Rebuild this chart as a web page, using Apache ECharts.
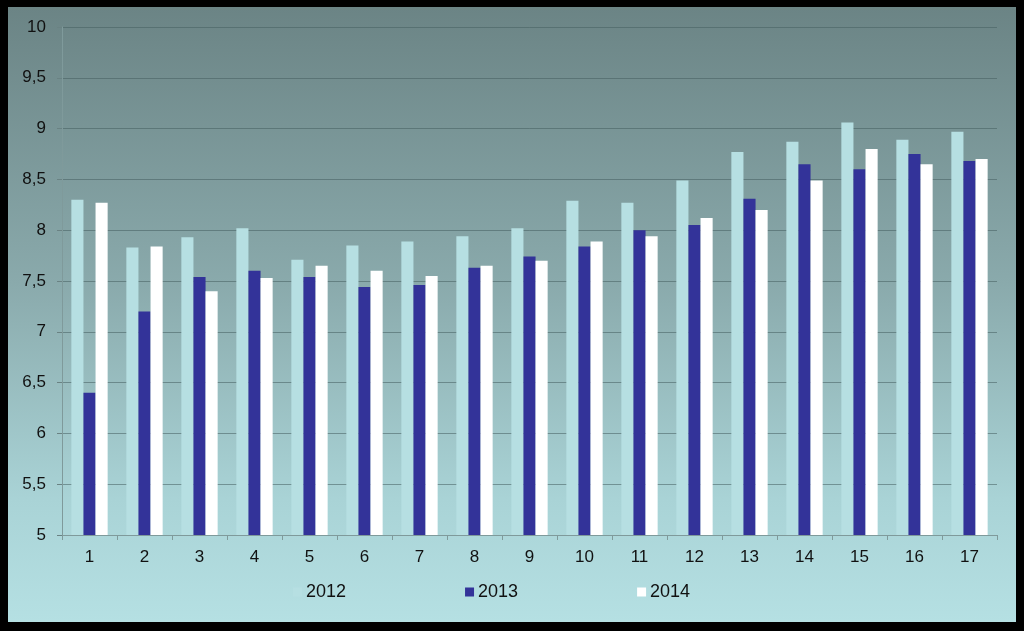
<!DOCTYPE html>
<html>
<head>
<meta charset="utf-8">
<style>
html,body{margin:0;padding:0;background:#000;}
#chart{width:1024px;height:631px;}
</style>
<script src="https://cdn.jsdelivr.net/npm/echarts@6/dist/echarts.min.js"></script>
</head>
<body>
<div id="chart"></div>
<script>
const categories = ['1','2','3','4','5','6','7','8','9','10','11','12','13','14','15','16','17'];
const s2012 = [8.30,7.83,7.93,8.02,7.71,7.85,7.89,7.94,8.02,8.29,8.27,8.49,8.77,8.87,9.06,8.89,8.97];
const s2013 = [6.40,7.20,7.54,7.60,7.54,7.44,7.46,7.63,7.74,7.84,8.00,8.05,8.31,8.65,8.60,8.75,8.68];
const s2014 = [8.27,7.84,7.40,7.53,7.65,7.60,7.55,7.65,7.70,7.89,7.94,8.12,8.20,8.49,8.80,8.65,8.70];
const seriesNames = ['2012','2013','2014'];

const chart = echarts.init(document.getElementById('chart'), null, {renderer:'canvas'});
const font = '"Liberation Sans", Arial, sans-serif';
const mk = (name, data, color) => ({
  name, type:'bar', data, barGap:'0%', barCategoryGap:'34%',
  itemStyle:{color}, emphasis:{disabled:true}
});
chart.setOption({
  backgroundColor:'#000',
  animation:false,
  graphic:[{
    type:'rect', z:-10, silent:true,
    shape:{x:8,y:7,width:1008,height:615},
    style:{fill:new echarts.graphic.LinearGradient(0,0,0,1,[
      {offset:0,color:'#6b8485'},
      {offset:0.45,color:'#8aaaac'},
      {offset:0.8,color:'#a9d3d6'},
      {offset:1,color:'#b5e0e3'}
    ])}
  }],
  grid:{left:62,right:27,top:27,bottom:96,containLabel:false},
  legend:{
    data:seriesNames, left:288, top:578, itemWidth:9, itemHeight:9, itemGap:119,
    icon:'rect',
    textStyle:{fontFamily:font,fontSize:18,color:'#111',padding:[0,0,0,-1]}
  },
  xAxis:{
    type:'category', data:categories, boundaryGap:true,
    axisLine:{lineStyle:{color:'#7f9a9b',width:1}},
    axisTick:{show:true,length:5,lineStyle:{color:'#7f9a9b'}},
    axisLabel:{fontFamily:font,fontSize:17,color:'#111',margin:14},
    splitLine:{show:false}
  },
  yAxis:{
    type:'value', min:5, max:10, interval:0.5,
    axisLine:{show:true,lineStyle:{color:'#7f9a9b',width:1}},
    axisTick:{show:true,length:5,lineStyle:{color:'#6a8283'}},
    axisLabel:{fontFamily:font,fontSize:17,color:'#111',margin:16,
      formatter:v=>String(v).replace('.',',')},
    splitLine:{show:true,lineStyle:{color:'rgba(70,95,97,0.55)',width:1}}
  },
  series:[
    mk('2012', s2012, '#b6dfe2'),
    mk('2013', s2013, '#333399'),
    mk('2014', s2014, '#ffffff')
  ]
});
</script>
</body>
</html>
